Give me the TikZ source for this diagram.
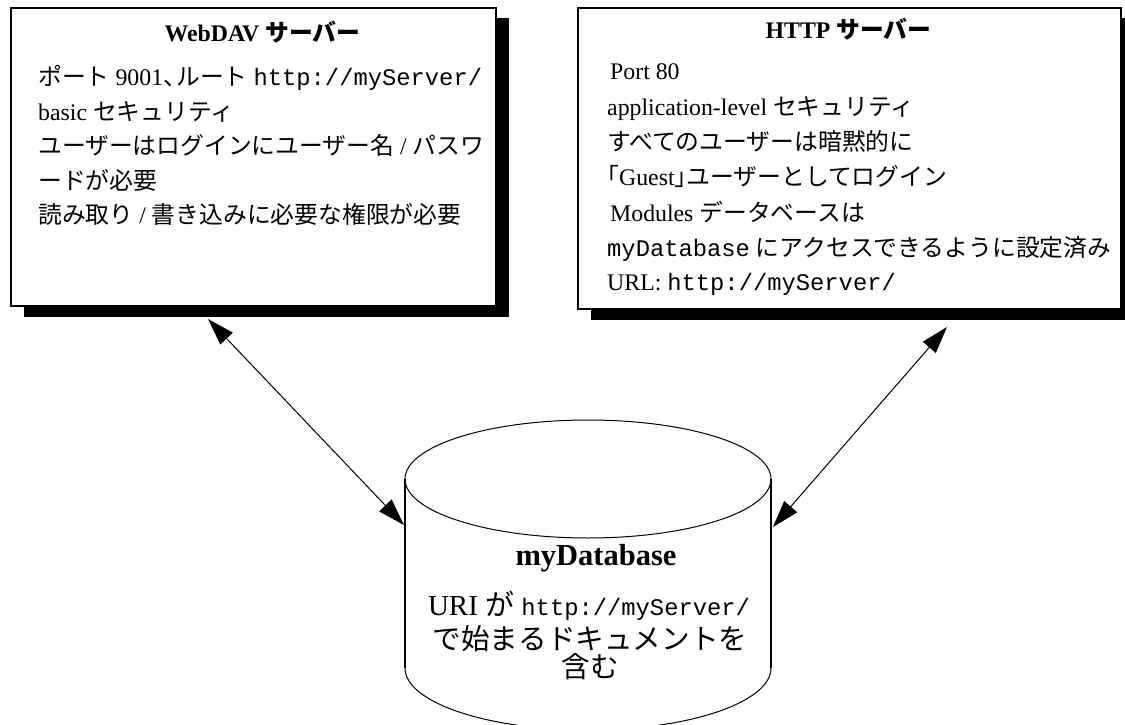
\documentclass[tikz,border=0pt]{standalone}
\usepackage{fontspec}
\setmainfont{Liberation Serif}
\setmonofont{Liberation Mono}
\newfontfamily\jp{Noto Sans CJK JP}
\usetikzlibrary{arrows.meta,shadows}

\begin{document}
\begin{tikzpicture}[x=1pt,y=-1pt,
  server/.style={draw, line width=2pt, fill=white, inner sep=0pt, anchor=north west,
    drop shadow={shadow xshift=13pt, shadow yshift=-10.5pt, fill=black, opacity=1}},
  lbl/.style={anchor=base west, inner sep=0pt, font=\fontsize{23.8}{28}\selectfont},
  heading/.style={anchor=base, inner sep=0pt, font=\fontsize{23.8}{28}\selectfont\bfseries},
  dbtext/.style={anchor=base, inner sep=0pt},
  biarrow/.style={line width=1pt, {Triangle[length=27pt,width=17pt]}-{Triangle[length=27pt,width=17pt]}}
]
\useasboundingbox (0,0) rectangle (1125,725);

% server boxes with their drop shadows
\node[server, minimum width=485pt, minimum height=298pt] (webdav) at (10,7) {};
\node[server, minimum width=543pt, minimum height=301pt] (http) at (577,7) {};

% WebDAV server text
\node[heading] (wdtitle) at (262.5,41.5) {WebDAV {\jp\bfseries サーバー}};
\node[lbl] (wd1) at (38,85) {{\jp ポート} 9001{\jp 、\kern-0.45em ルート} {\ttfamily http://myServer/}};
\node[lbl] (wd2) at (38,120) {basic {\jp セキュリティ}};
\node[lbl] (wd3) at (38,154.5) {{\jp ユーザーはログインにユーザー名} / {\jp パスワ}};
\node[lbl] (wd4) at (38,189) {{\jp ードが必要}};
\node[lbl] (wd5) at (38,223) {{\jp 読み取り} / {\jp 書き込みに必要な権限が必要}};

% HTTP server text
\node[heading] (httitle) at (848.5,39) {HTTP {\jp\bfseries サーバー}};
\node[lbl] (ht1) at (610,80) {Port 80};
\node[lbl] (ht2) at (607,115) {application-level {\jp セキュリティ}};
\node[lbl] (ht3) at (607,150) {{\jp すべてのユーザーは暗黙的に}};
\node[lbl] (ht4) at (607,185.5) {{\jp\kern-0.5em 「}Guest{\jp 」\kern-0.5em ユーザーとしてログイン}};
\node[lbl] (ht5) at (610,221) {Modules {\jp データベースは}};
\node[lbl] (ht6) at (607,256) {{\ttfamily myDatabase} {\jp にアクセスできるように設定済み}};
\node[lbl] (ht7) at (607,290.5) {URL: {\ttfamily http://myServer/}};

% database cylinder
\draw[line width=1pt] (588,479) ellipse [x radius=183pt, y radius=59pt];
\draw[line width=2pt] (405,479) -- (405,668) (771,479) -- (771,668);
\draw[line width=1pt] (405,668) arc[start angle=180, end angle=360, x radius=183pt, y radius=62pt];
\coordinate (dbwest) at (404,525);
\coordinate (dbeast) at (773,527);

\node[dbtext, font=\fontsize{30.5}{34}\selectfont\bfseries] (dbname) at (596,565) {myDatabase};
\node[dbtext, font=\fontsize{29}{34}\selectfont] (db1) at (589,615) {URI {\jp が} {\fontsize{23.8}{28}\selectfont\ttfamily http://myServer/}};
\node[dbtext, font=\fontsize{28.6}{34}\selectfont\jp] (db2) at (590,649) {で始まるドキュメントを};
\node[dbtext, font=\fontsize{28.6}{34}\selectfont\jp] (db3) at (590,677) {含む};

% connectors between the servers and the database
\coordinate (wdlink) at (208,319);
\coordinate (htlink) at (947,327);
\draw[biarrow] (wdlink) -- (dbwest);
\draw[biarrow] (htlink) -- (dbeast);
\end{tikzpicture}
\end{document}
